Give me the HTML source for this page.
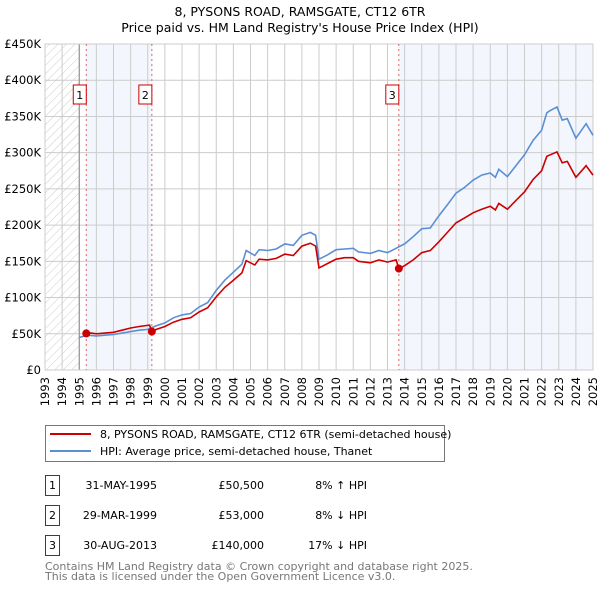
<!DOCTYPE html>
<html><head><meta charset="utf-8"><style>
body{margin:0;background:#fff;font-family:"DejaVu Sans","Liberation Sans",sans-serif;}
svg text{font-family:"DejaVu Sans","Liberation Sans",sans-serif;}
</style></head><body>
<svg id="c" width="600" height="590" xmlns="http://www.w3.org/2000/svg">
<defs><pattern id="hatch" width="6" height="6" patternUnits="userSpaceOnUse" patternTransform="rotate(45)"><line x1="0" y1="0" x2="0" y2="6" stroke="#ccc" stroke-width="1"/></pattern></defs>
<text x="300" y="16" text-anchor="middle" font-size="12.5">8, PYSONS ROAD, RAMSGATE, CT12 6TR</text>
<text x="300" y="32" text-anchor="middle" font-size="12.5">Price paid vs. HM Land Registry's House Price Index (HPI)</text>
<g id="plot"></g>
<g>
<rect x="45.5" y="425.5" width="399" height="36" fill="#fff" stroke="#777"/>
<line x1="50" y1="434" x2="91" y2="434" stroke="#cc0000" stroke-width="2"/>
<text x="100" y="438" font-size="11">8, PYSONS ROAD, RAMSGATE, CT12 6TR (semi-detached house)</text>
<line x1="50" y1="451" x2="91" y2="451" stroke="#5b8fd4" stroke-width="2"/>
<text x="100" y="455" font-size="11">HPI: Average price, semi-detached house, Thanet</text>
</g>
<g font-size="11">
<rect x="45.5" y="475.5" width="14" height="20" fill="#fff" stroke="#cc0000"/><text x="52.5" y="489" text-anchor="middle">1</text>
<text x="157" y="489" text-anchor="end">31-MAY-1995</text><text x="264" y="489" text-anchor="end">£50,500</text><text x="367" y="489" text-anchor="end">8% ↑ HPI</text>
<rect x="45.5" y="505.5" width="14" height="20" fill="#fff" stroke="#cc0000"/><text x="52.5" y="519" text-anchor="middle">2</text>
<text x="157" y="519" text-anchor="end">29-MAR-1999</text><text x="264" y="519" text-anchor="end">£53,000</text><text x="367" y="519" text-anchor="end">8% ↓ HPI</text>
<rect x="45.5" y="535.5" width="14" height="20" fill="#fff" stroke="#cc0000"/><text x="52.5" y="549" text-anchor="middle">3</text>
<text x="157" y="549" text-anchor="end">30-AUG-2013</text><text x="264" y="549" text-anchor="end">£140,000</text><text x="367" y="549" text-anchor="end">17% ↓ HPI</text>
</g>
<text x="45" y="570" font-size="11" fill="#777">Contains HM Land Registry data © Crown copyright and database right 2025.</text>
<text x="45" y="580" font-size="11" fill="#777">This data is licensed under the Open Government Licence v3.0.</text>
</svg>
<script>
const yTicks=[0,50,100,150,200,250,300,350,400,450];
const yTickLabels=["£0","£50K","£100K","£150K","£200K","£250K","£300K","£350K","£400K","£450K"];
const years=[1993,1994,1995,1996,1997,1998,1999,2000,2001,2002,2003,2004,2005,2006,2007,2008,2009,2010,2011,2012,2013,2014,2015,2016,2017,2018,2019,2020,2021,2022,2023,2024,2025];
const saleDates=[1995.41,1999.24,2013.66];
const saleValues=[50.5,53,140];
const saleLabels=["1","2","3"];
const hpiDates=[1995.0,1995.5,1996,1996.5,1997,1997.5,1998,1998.5,1999,1999.5,2000,2000.5,2001,2001.5,2002,2002.5,2003,2003.5,2004,2004.5,2004.75,2005.25,2005.5,2006,2006.5,2007,2007.5,2008,2008.5,2008.8,2009,2009.5,2010,2010.5,2011,2011.3,2012,2012.5,2013,2013.5,2013.66,2014,2014.5,2015,2015.5,2016,2016.5,2017,2017.5,2018,2018.5,2019,2019.3,2019.5,2020,2020.5,2021,2021.5,2022,2022.3,2022.5,2022.9,2023.2,2023.5,2024,2024.3,2024.6,2025];
const hpiValues=[45,48,47,48,49,51,53,55,56,61,65,72,76,78,87,93,110,124,135,146,165,158,166,165,167,174,172,186,190,186,153,159,166,167,168,163,161,165,162,168,170,174,184,195,196,213,228,244,252,262,269,272,266,277,267,282,297,317,331,355,358,363,345,347,320,330,340,324];
const priceDates=[1995.41,1995.7,1996,1996.5,1997,1997.5,1998,1998.5,1999.1,1999.24,1999.5,2000,2000.5,2001,2001.5,2002,2002.5,2003,2003.5,2004,2004.5,2004.75,2005.25,2005.5,2006,2006.5,2007,2007.5,2008,2008.5,2008.8,2009,2009.5,2010,2010.5,2011,2011.3,2012,2012.5,2013,2013.5,2013.66,2014,2014.5,2015,2015.5,2016,2016.5,2017,2017.5,2018,2018.5,2019,2019.3,2019.5,2020,2020.5,2021,2021.5,2022,2022.3,2022.5,2022.9,2023.2,2023.5,2024,2024.3,2024.6,2025];
const priceValues=[50.5,51,50,51,52,55,58,60,62,53,56,60,66,70,72,80,86,101,114,124,134,151,145,153,152,154,160,158,171,175,171,141,147,153,155,155,150,148,152,149,152,140,144,152,162,165,177,190,203,210,217,222,226,221,230,222,234,246,263,275,295,297,301,286,288,266,274,282,269];

const X0=45,X1=593,Y0=370,Y1=44;
const xs=d=>X0+(d-1993)/(2025-1993)*(X1-X0);
const ys=v=>Y0-v/450*(Y0-Y1);
const NS="http://www.w3.org/2000/svg";
const plot=document.getElementById('plot');
function mk(t,a,p){const e=document.createElementNS(NS,t);for(const k in a)e.setAttribute(k,a[k]);(p||plot).appendChild(e);return e;}

let r=mk('rect',{x:X0,y:Y1,width:xs(1995)-X0,height:Y0-Y1,fill:'url(#hatch)'});


r=mk('rect',{x:xs(saleDates[0]),y:Y1,width:xs(saleDates[1])-xs(saleDates[0]),height:Y0-Y1,fill:'#f3f6fd'});


r=mk('rect',{x:xs(saleDates[2]),y:Y1,width:X1-xs(saleDates[2]),height:Y0-Y1,fill:'#f3f6fd'});



yTicks.forEach((v,i)=>{
  const l=mk('line',{x1:X0,x2:X1,y1:ys(v),y2:ys(v),stroke:'#ccc','stroke-width':1});
  
  
  const t=mk('text',{x:X0-4,y:ys(v)+4,'text-anchor':'end','font-size':11.5});
  
  
  t.textContent=yTickLabels[i];
});
years.forEach(y=>{
  const l=mk('line',{x1:xs(y),x2:xs(y),y1:Y1,y2:Y0,stroke:'#ccc','stroke-width':1});
  
  
  const t=mk('text',{x:0,y:0,'text-anchor':'end','font-size':11.5,transform:`translate(${xs(y)+4},${Y0+7}) rotate(-90)`});
  
  
  t.textContent=y;
});
let b=mk('line',{x1:xs(1995),x2:xs(1995),y1:Y1,y2:Y0,stroke:'#888'});


b=mk('rect',{x:X0,y:Y1,width:X1-X0,height:Y0-Y1,fill:'none',stroke:'#ccc'});



saleDates.forEach((d,i)=>{
  const l=mk('line',{x1:xs(d),x2:xs(d),y1:Y1,y2:Y0,stroke:'#e06666','stroke-dasharray':'2,3'});
  
  
  const bx=mk('rect',{x:xs(d)-7-6,y:85,width:13,height:19,fill:'#fff',stroke:'#cc0000'});
  
  
  const t=mk('text',{x:xs(d)-6.5,y:99,'text-anchor':'middle','font-size':11});
  
  
  t.textContent=saleLabels[i];
});

function path(ds,vs){return ds.map((d,i)=>(i?'L':'M')+xs(d).toFixed(1)+','+ys(vs[i]).toFixed(1)).join(' ');}
let p=mk('path',{d:path(hpiDates,hpiValues),fill:'none',stroke:'#5b8fd4','stroke-width':1.6});


p=mk('path',{d:path(priceDates,priceValues),fill:'none',stroke:'#cc0000','stroke-width':1.6});


saleDates.forEach((d,i)=>{
  const c=mk('circle',{cx:xs(d),cy:ys(saleValues[i]),r:4,fill:'#cc0000'});
  
  
});
</script>
</body></html>
